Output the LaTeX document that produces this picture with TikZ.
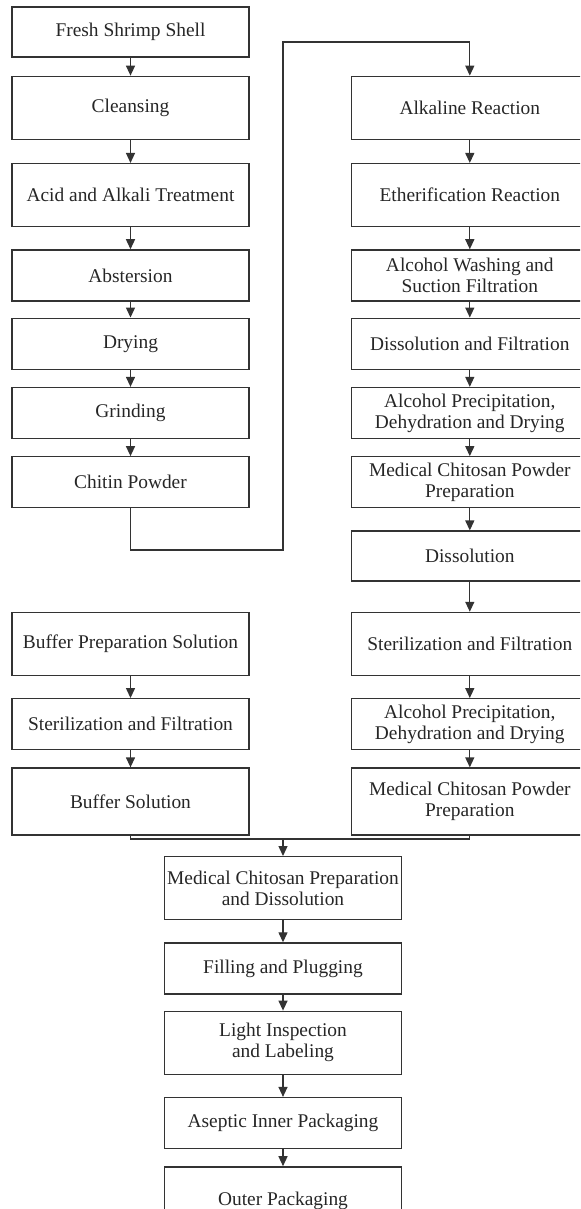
\documentclass[tikz,border=0pt]{standalone}
\usepackage{fontspec}
\setmainfont{Liberation Serif}
\usetikzlibrary{calc,positioning}
\usetikzlibrary{arrows.meta}
\tikzstyle{block} = [draw=black!80, rectangle, line width=0.65pt, minimum width=118.5pt, minimum height=25.5pt, inner sep=0pt, align=center, text=black!85, font=\fontsize{9.7pt}{10.5pt}\selectfont]
\tikzstyle{tall} = [block, minimum height=31.5pt]
\tikzstyle{taller} = [block, minimum height=33.5pt]

\begin{document}
\begin{tikzpicture}[>={Triangle[length=5pt,width=4.5pt]}, line width=0.65pt, draw=black!80]
    \useasboundingbox (0,0) rectangle (290pt,-604.5pt);
    \clip (0,0) rectangle (290pt,-604.5pt);

    % chitin column
    \node [block, minimum height=25pt] (shell) at (65.25pt,-16pt) {Fresh Shrimp Shell};
    \node [tall, below=9pt of shell] (clean) {Cleansing};
    \node [tall, below=11.5pt of clean] (acid) {Acid and Alkali Treatment};
    \node [block, below=11pt of acid] (abst) {Abstersion};
    \node [block, below=8pt of abst] (dry) {Drying};
    \node [block, below=8.5pt of dry] (grind) {Grinding};
    \node [block, below=8.5pt of grind] (chitin) {Chitin Powder};

    % chitosan column
    \node [tall, right=50.5pt of clean] (alk) {Alkaline Reaction};
    \node [tall, below=11.5pt of alk] (ether) {Etherification Reaction};
    \node [block, below=11pt of ether] (wash) {Alcohol Washing and\\ Suction Filtration};
    \node [block, below=8pt of wash] (dissf) {Dissolution and Filtration};
    \node [block, below=8.5pt of dissf] (prec1) {Alcohol Precipitation,\\ Dehydration and Drying};
    \node [block, below=8.5pt of prec1] (powd1) {Medical Chitosan Powder\\ Preparation};
    \node [block, minimum height=25pt, below=11pt of powd1] (diss) {Dissolution};
    \node [tall, below=15pt of diss] (steril) {Sterilization and Filtration};
    \node [block, below=11pt of steril] (prec2) {Alcohol Precipitation,\\ Dehydration and Drying};
    \node [taller, below=8.5pt of prec2] (powd2) {Medical Chitosan Powder\\ Preparation};

    % buffer column
    \node [tall, left=50.5pt of steril] (bprep) {Buffer Preparation Solution};
    \node [block, below=11pt of bprep] (bster) {Sterilization and Filtration};
    \node [taller, below=8.5pt of bster] (bsol) {Buffer Solution};

    % product line
    \coordinate (merge) at (141.5pt,-419.5pt);
    \node [tall, below=8.5pt of merge] (prep) {Medical Chitosan Preparation\\ and Dissolution};
    \node [block, below=11pt of prep] (fill) {Filling and Plugging};
    \node [tall, below=8pt of fill] (light) {Light Inspection\\ and Labeling};
    \node [block, below=11pt of light] (asept) {Aseptic Inner Packaging};
    \node [taller, below=8.5pt of asept] (outer) {Outer Packaging};

    \draw [->] (shell) -- (clean);
    \draw [->] (clean) -- (acid);
    \draw [->] (acid) -- (abst);
    \draw [->] (abst) -- (dry);
    \draw [->] (dry) -- (grind);
    \draw [->] (grind) -- (chitin);

    \coordinate (low) at (141.5pt,-275pt);
    \draw [->] (chitin.south) |- (low) |- ($(alk.north) + (0,16.75pt)$) -- (alk.north);

    \draw [->] (alk) -- (ether);
    \draw [->] (ether) -- (wash);
    \draw [->] (wash) -- (dissf);
    \draw [->] (dissf) -- (prec1);
    \draw [->] (prec1) -- (powd1);
    \draw [->] (powd1) -- (diss);
    \draw [->] (diss) -- (steril);
    \draw [->] (steril) -- (prec2);
    \draw [->] (prec2) -- (powd2);

    \draw [->] (bprep) -- (bster);
    \draw [->] (bster) -- (bsol);

    \draw (bsol.south) |- (merge);
    \draw (powd2.south) |- (merge);
    \draw [->] (merge) -- (prep.north);

    \draw [->] (prep) -- (fill);
    \draw [->] (fill) -- (light);
    \draw [->] (light) -- (asept);
    \draw [->] (asept) -- (outer);
\end{tikzpicture}
\end{document}
